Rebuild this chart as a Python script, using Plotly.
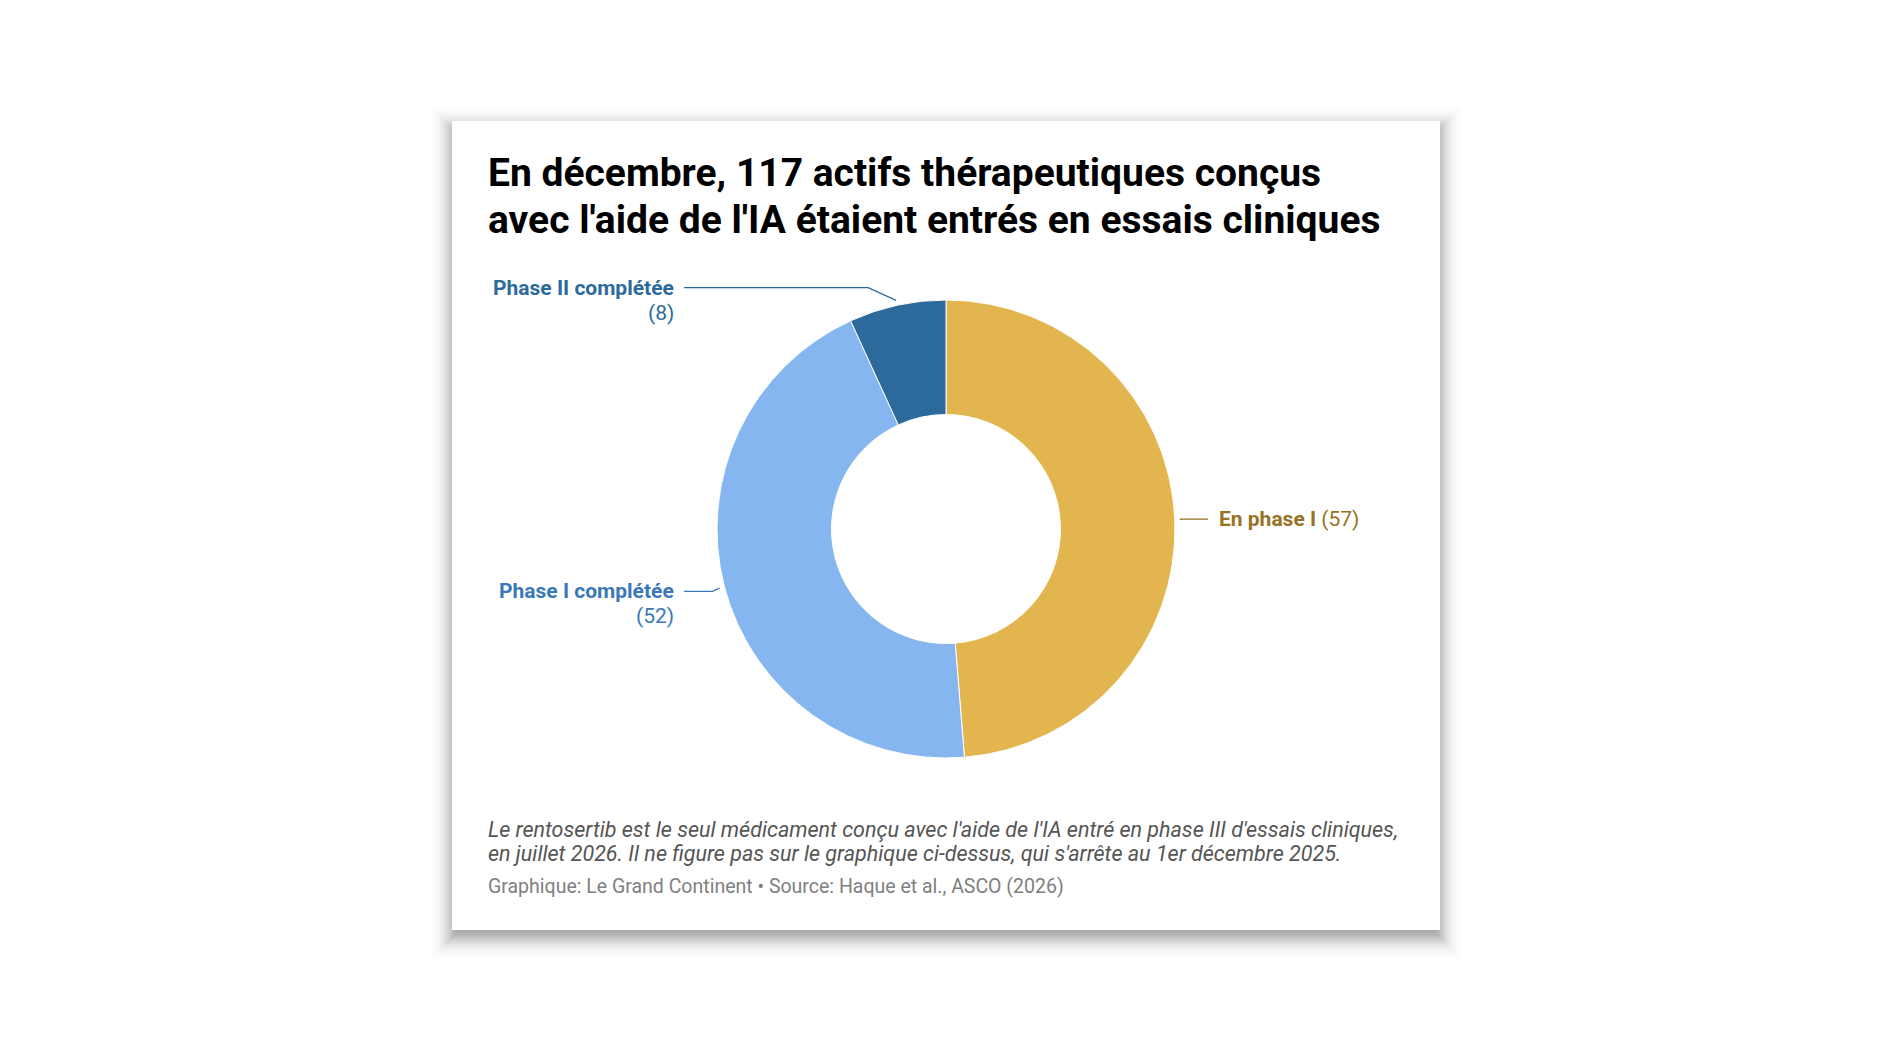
import math
import numpy as np
import plotly.graph_objects as go

# --- data ---
phases = ["En phase I", "Phase I complétée", "Phase II complétée"]
counts = [57, 52, 8]
slice_colors = ["#E3B54F", "#85B6F0", "#2D6A9C"]
label_colors = ["#977222", "#3A78B8", "#2D6A9C"]

title_lines = [
    "En décembre, 117 actifs thérapeutiques conçus",
    "avec l'aide de l'IA étaient entrés en essais cliniques",
]
note_lines = [
    "Le rentosertib est le seul médicament conçu avec l'aide de l'IA entré en phase III d'essais cliniques,",
    "en juillet 2026. Il ne figure pas sur le graphique ci-dessus, qui s'arrête au 1er décembre 2025.",
]
source_line = "Graphique: Le Grand Continent • Source: Haque et al., ASCO (2026)"

# --- page geometry (pixels, page coordinates) ---
W, H = 1892, 1052
M = 8  # default body margin of the html page
FW, FH = W - 2 * M, H - 2 * M
card_x0, card_y0, card_x1, card_y1 = 452, 121, 1440, 930
cx, cy, R = 946, 529, 229
text_x = 486
FONT = "Roboto, 'Open Sans', sans-serif"

fig = go.Figure()

fig.add_trace(go.Pie(
    labels=phases,
    values=counts,
    hole=0.5,
    sort=False,
    direction="clockwise",
    rotation=0,
    marker=dict(colors=slice_colors, line=dict(color="white", width=1)),
    textinfo="none",
    hoverinfo="label+value",
    showlegend=False,
    domain=dict(x=[(cx - R - M) / FW, (cx + R - M) / FW],
                y=[1 - (cy + R - M) / FH, 1 - (cy - R - M) / FH]),
))

shapes = []
# blurred drop shadow behind the card (stacked translucent rects)
sh_dy, sigma, strength, step = 7, 10.0, 0.5, 1.5


def phi(v):
    return 0.5 * (1 + math.erf(v / math.sqrt(2)))


for e in np.arange(-3 * sigma, 3 * sigma + step, step):
    a = strength * (phi((e + step / 2) / sigma) - phi((e - step / 2) / sigma))
    shapes.append(dict(
        type="rect", xref="x", yref="y", layer="below",
        x0=card_x0 - e, x1=card_x1 + e,
        y0=card_y0 + sh_dy - e, y1=card_y1 + sh_dy + e,
        fillcolor=f"rgba(0,0,0,{a:.4f})", line=dict(width=0),
    ))
shapes.append(dict(
    type="rect", xref="x", yref="y", layer="below",
    x0=card_x0, x1=card_x1, y0=card_y0, y1=card_y1,
    fillcolor="white", line=dict(width=0),
))

annotations = []
for i, line in enumerate(title_lines):
    annotations.append(dict(
        x=text_x, y=173 + i * 47, xref="x", yref="y",
        xanchor="left", yanchor="middle", showarrow=False,
        text=f"<b>{line}</b>",
        font=dict(family=FONT, size=39, color="#000000"),
    ))
for i, line in enumerate(note_lines):
    annotations.append(dict(
        x=text_x, y=829 + i * 24.5, xref="x", yref="y",
        xanchor="left", yanchor="middle", showarrow=False,
        text=f"<i>{line}</i>",
        font=dict(family=FONT, size=21.5, color="#555555"),
    ))
annotations.append(dict(
    x=text_x, y=886, xref="x", yref="y",
    xanchor="left", yanchor="middle", showarrow=False,
    text=source_line,
    font=dict(family=FONT, size=19.5, color="#808080"),
))

# outside labels with connector lines
total = sum(counts)
start = 0
for name, n, col in zip(phases, counts, label_colors):
    mid = np.radians((start + n / 2) / total * 360)
    start += n
    s, c = np.sin(mid), np.cos(mid)
    side = 1 if s > 0 else -1
    sx, sy = cx + (R + 5) * s, cy - (R + 5) * c
    ly = cy - (R + 18) * c
    ex = sx + side * 2.2 * abs(ly - sy)
    colx = cx + side * 262
    shapes.append(dict(
        type="path", xref="x", yref="y",
        path=f"M {sx},{sy} L {ex},{ly} L {colx},{ly}",
        line=dict(color=col, width=1.3),
    ))
    if side > 0:
        annotations.append(dict(
            x=colx + 9, y=ly, xref="x", yref="y",
            xanchor="left", yanchor="middle", showarrow=False,
            text=f"<b>{name}</b> ({n})",
            font=dict(family=FONT, size=21, color=col),
        ))
    else:
        annotations.append(dict(
            x=colx - 8, y=ly, xref="x", yref="y",
            xanchor="right", yanchor="middle", showarrow=False,
            text=f"<b>{name}</b>",
            font=dict(family=FONT, size=21, color=col),
        ))
        annotations.append(dict(
            x=colx - 8, y=ly + 25, xref="x", yref="y",
            xanchor="right", yanchor="middle", showarrow=False,
            text=f"({n})",
            font=dict(family=FONT, size=21, color=col),
        ))

fig.update_layout(
    width=FW, height=FH,
    margin=dict(l=0, r=0, t=0, b=0),
    paper_bgcolor="white",
    plot_bgcolor="rgba(0,0,0,0)",
    xaxis=dict(range=[M, W - M], visible=False, fixedrange=True, domain=[0, 1]),
    yaxis=dict(range=[H - M, M], visible=False, fixedrange=True, domain=[0, 1]),
    shapes=shapes,
    annotations=annotations,
)

fig.write_html("out.html")
